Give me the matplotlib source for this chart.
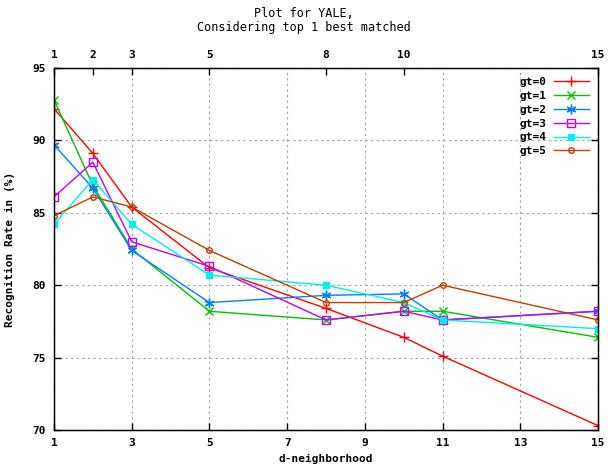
import matplotlib
matplotlib.use("Agg")
import matplotlib.pyplot as plt

x = [1, 2, 3, 5, 8, 10, 11, 15]
gt0 = [92.2, 89.1, 85.4, 81.2, 78.4, 76.4, 75.1, 70.3]
gt1 = [92.8, 86.9, 82.5, 78.2, 77.6, 78.2, 78.2, 76.4]
gt2 = [89.7, 86.7, 82.4, 78.8, 79.3, 79.4, 77.6, 78.2]
gt3 = [86.1, 88.5, 83.0, 81.3, 77.6, 78.2, 77.6, 78.2]
gt4 = [84.2, 87.3, 84.2, 80.7, 80.0, 78.8, 77.6, 77.0]
gt5 = [84.8, 86.1, 85.4, 82.4, 78.8, 78.8, 80.0, 77.6]
labels = ["gt=0", "gt=1", "gt=2", "gt=3", "gt=4", "gt=5"]
series = [gt0, gt1, gt2, gt3, gt4, gt5]
xticks = [1, 3, 5, 7, 9, 11, 13, 15]
x2ticks = [1, 2, 3, 5, 8, 10, 15]
yticks = [70, 75, 80, 85, 90, 95]

colors = ["#ff0000", "#00c000", "#0080ff", "#c000ff", "#00eeee", "#c04000"]
markers = ["+", "x", (6, 2, 0), "s", "s", "o"]
mfc = ["none", "none", "none", "none", "#00eeee", "none"]
msizes = [7, 6, 7, 6, 5, 4]

font = {"family": "DejaVu Sans Mono", "weight": "bold", "size": 8}

fig = plt.figure(figsize=(6.08, 4.66), dpi=100)
ax = fig.add_axes([0.0888, 0.0773, 0.8948, 0.7767])

for s, lab, c, m, fc, ms in zip(series, labels, colors, markers, mfc, msizes):
    ax.plot(x, s, color=c, marker=m, markerfacecolor=fc, markeredgecolor=c,
            markersize=ms, linewidth=1, markeredgewidth=1, label=lab)

ax.set_xlim(1, 15)
ax.set_ylim(70, 95)
ax.set_xticks(xticks)
ax.set_yticks(yticks)
ax.set_xticklabels([str(v) for v in xticks], fontdict=font)
ax.set_yticklabels([str(v) for v in yticks], fontdict=font)
ax.tick_params(direction="in", length=5, top=True, right=True, width=1, pad=6)
ax.grid(True, linestyle=(0, (2, 3)), color="#a0a0a0", linewidth=0.8)
for sp in ax.spines.values():
    sp.set_linewidth(1)

ax2 = ax.twiny()
ax2.set_xlim(1, 15)
ax2.set_xticks(x2ticks)
ax2.set_xticklabels([str(v) for v in x2ticks], fontdict=font)
ax2.tick_params(direction="in", length=5, width=1, pad=6)

ax.set_xlabel("d-neighborhood", fontdict=font, labelpad=4)
ax.set_ylabel("Recognition Rate in (%)", fontdict=font, labelpad=12)

fig.text(0.5, 0.985, "Plot for YALE,\nConsidering top 1 best matched",
         ha="center", va="top", family="DejaVu Sans Mono", size=8.5,
         linespacing=1.1)

leg = ax.legend(loc="upper right", markerfirst=False, frameon=False,
                prop={"family": "DejaVu Sans Mono", "weight": "bold", "size": 8},
                handlelength=3.2, labelspacing=0.35, borderaxespad=0.4,
                handletextpad=0.6)

fig.savefig("out.png", dpi=100)
